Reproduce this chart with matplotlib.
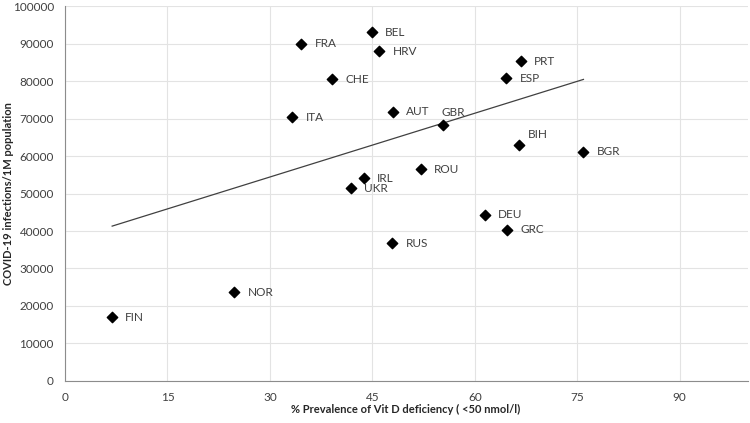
import numpy as np
import matplotlib.pyplot as plt

plt.rcParams["font.family"] = ["Lato", "DejaVu Sans"]

# =======================
# Data
# =======================
countries = ["FIN", "NOR", "ITA", "FRA", "CHE", "BEL", "HRV", "UKR", "IRL", "AUT",
             "GBR", "ROU", "RUS", "DEU", "GRC", "ESP", "PRT", "BIH", "BGR"]
vitd_def = [6.9, 24.8, 33.3, 34.6, 39.1, 44.9, 46.0, 41.9, 43.7, 48.0,
            55.3, 52.1, 47.9, 61.5, 64.7, 64.6, 66.7, 66.5, 75.9]
infections = [17000, 23700, 70400, 89900, 80500, 93000, 88000, 51400, 54100, 71800,
              68200, 56500, 36700, 44300, 40300, 80700, 85300, 62900, 61100]

# linear trend as drawn in the source
trend_slope = 567.0
trend_intercept = 37390.0

# label offsets in points (most sit to the right of the marker)
label_offsets = {"GBR": (-1, 9), "BIH": (6, 8)}

# =======================
# Plot
# =======================
fig = plt.figure(figsize=(7.5, 4.23), dpi=100)
ax = fig.add_axes([0.0867, 0.0993, 0.9107, 0.8865])

ax.scatter(vitd_def, infections, marker="D", s=28, color="black", zorder=3)

xs = np.array([min(vitd_def), max(vitd_def)])
ax.plot(xs, trend_slope * xs + trend_intercept, color="#404040", lw=0.9, zorder=2)

for c, x, y in zip(countries, vitd_def, infections):
    dx, dy = label_offsets.get(c, (9.5, 0))
    ax.annotate(c, (x, y), xytext=(dx, dy), textcoords="offset points",
                ha="left", va="center", fontsize=8.5, color="#404040")

ax.set_xlim(0, 100)
ax.set_ylim(0, 100000)
ax.set_xticks(np.arange(0, 91, 15))
ax.set_yticks(np.arange(0, 100001, 10000))
ax.tick_params(length=0, labelsize=8.5, labelcolor="#404040", pad=8)
ax.grid(True, color="#e3e3e3", lw=0.8)
ax.set_axisbelow(True)
for s in ["top", "right"]:
    ax.spines[s].set_visible(False)
for s in ["left", "bottom"]:
    ax.spines[s].set_color("#8c8c8c")

ax.set_xlabel("% Prevalence of Vit D deficiency ( <50 nmol/l)", fontsize=8,
              fontweight="bold", color="#262626")
ax.set_ylabel("COVID-19 infections/1M population", fontsize=8,
              fontweight="bold", color="#262626")
ax.xaxis.set_label_coords(0.499, -0.077)
ax.yaxis.set_label_coords(-0.083, 0.5)
ax.xaxis.label.set_va("center")
ax.yaxis.label.set_va("center")

fig.savefig("out.png", dpi=100)
